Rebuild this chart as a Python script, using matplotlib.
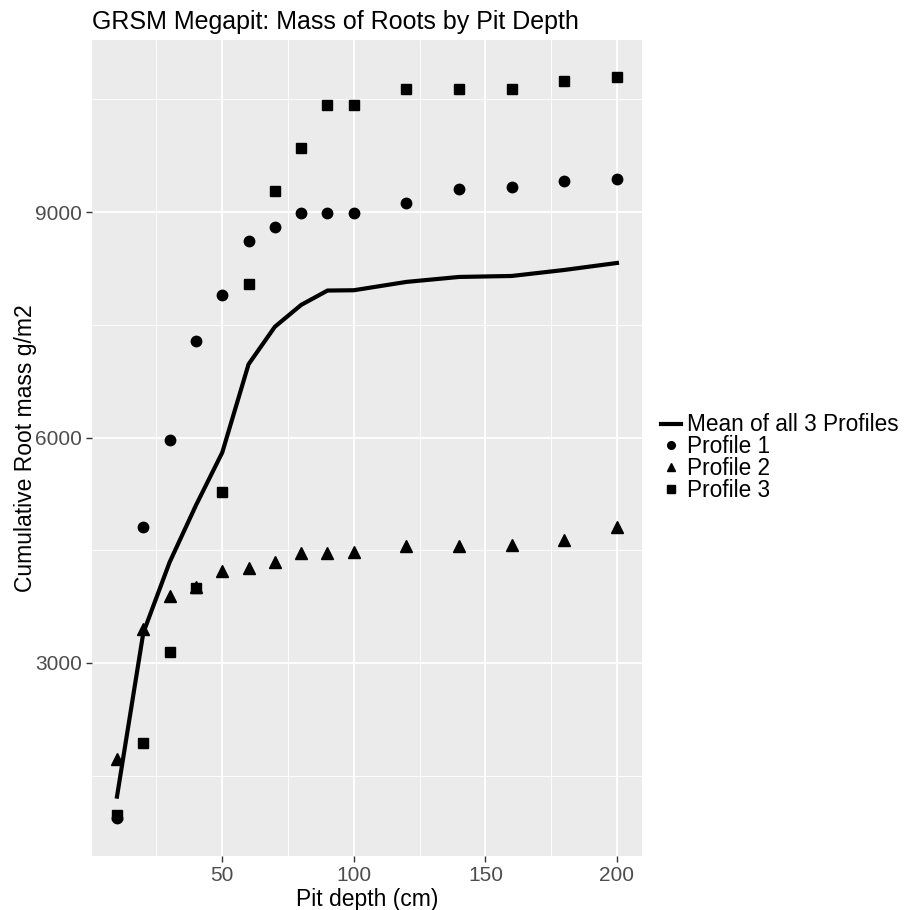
import matplotlib
matplotlib.use("Agg")
import matplotlib.pyplot as plt
from matplotlib.ticker import MultipleLocator
from matplotlib.lines import Line2D

plt.rcParams['font.family'] = ['Liberation Sans', 'DejaVu Sans']

# data
depth = [10, 20, 30, 40, 50, 60, 70, 80, 90, 100, 120, 140, 160, 180, 200]
profile1 = [930, 4805, 5973, 7288, 7898, 8615, 8801, 8987, 8987, 8990, 9119, 9305, 9332, 9411, 9438]
profile2 = [1726, 3451, 3889, 4009, 4221, 4261, 4341, 4460, 4460, 4473, 4553, 4553, 4566, 4633, 4805]
profile3 = [980, 1938, 3146, 3995, 5270, 8044, 9279, 9849, 10420, 10420, 10633, 10633, 10633, 10739, 10792]
mean_all = [1221, 3400, 4340, 5097, 5800, 6975, 7474, 7765, 7956, 7960, 8071, 8137, 8150, 8230, 8323]

fig = plt.figure(figsize=(9.08, 9.10), dpi=100)
ax = fig.add_axes([0.1013, 0.0593, 0.6057, 0.8967])
ax.set_facecolor('#EBEBEB')
for s in ax.spines.values():
    s.set_visible(False)

ax.plot(depth, mean_all, color='black', lw=3, zorder=3)
ax.plot(depth, profile1, 'o', color='black', ms=7.5, zorder=4)
ax.plot(depth, profile2, '^', color='black', ms=8, zorder=4)
ax.plot(depth, profile3, 's', color='black', ms=7, zorder=4)

ax.set_xlim(0.5, 209.5)
ax.set_ylim(430, 11290)
ax.xaxis.set_major_locator(MultipleLocator(50))
ax.xaxis.set_minor_locator(MultipleLocator(25))
ax.yaxis.set_major_locator(MultipleLocator(3000))
ax.yaxis.set_minor_locator(MultipleLocator(1500))
ax.set_xticks([50, 100, 150, 200])
ax.set_yticks([3000, 6000, 9000])
ax.grid(which='major', color='white', lw=1.3)
ax.grid(which='minor', color='white', lw=0.6)
ax.set_axisbelow(True)
ax.tick_params(which='major', length=4, width=1, color='#333333',
               labelsize=15, labelcolor='#4D4D4D', pad=3)
ax.tick_params(which='minor', length=0)

ax.set_xlabel('Pit depth (cm)', fontsize=16.5, labelpad=2)
ax.set_ylabel('Cumulative Root mass g/m2', fontsize=16.5, labelpad=-1)
ax.set_title('GRSM Megapit: Mass of Roots by Pit Depth', fontsize=18, loc='left', pad=8)

handles = [
    Line2D([], [], color='black', lw=3),
    Line2D([], [], marker='o', ls='', color='black', ms=5.5),
    Line2D([], [], marker='^', ls='', color='black', ms=6),
    Line2D([], [], marker='s', ls='', color='black', ms=5.5),
]
labels = ['Mean of all 3 Profiles', 'Profile 1', 'Profile 2', 'Profile 3']
fig.legend(handles, labels, loc='center left', bbox_to_anchor=(0.718, 0.497),
           frameon=False, fontsize=16.3, handlelength=0.9, handletextpad=0.25,
           labelspacing=-0.05, borderaxespad=0)

fig.savefig('out.png', dpi=100)
